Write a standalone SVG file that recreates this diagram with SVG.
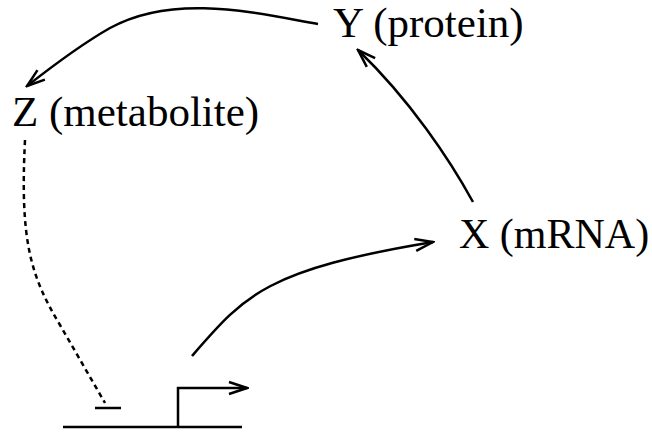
<svg xmlns="http://www.w3.org/2000/svg" width="652" height="432" viewBox="0 0 652 432">
<style>
  .lbl { font-family: "Liberation Serif", "Times New Roman", serif; font-size: 43px; fill: #000; }
  .ln { fill: none; stroke: #000; stroke-width: 2.5; }
  .dash { stroke-dasharray: 5 4; }
</style>
<defs>
  <marker id="arr" markerUnits="userSpaceOnUse" viewBox="-21 -9 23 18" markerWidth="23" markerHeight="18" refX="0" refY="0" orient="auto">
    <path d="M-18,-6 L0,0 L-18,6" fill="none" stroke="#000" stroke-width="2.5"/>
  </marker>
</defs>
<rect width="652" height="432" fill="#fff"/>
<g id="node-Y"><text class="lbl" x="333" y="37">Y (protein)</text></g>
<g id="node-Z"><text class="lbl" x="12" y="126">Z (metabolite)</text></g>
<g id="node-X"><text class="lbl" x="459" y="248" style="font-size:42px">X (mRNA)</text></g>
<g id="node-gene">
  <line class="ln" x1="63" y1="427" x2="242" y2="427"/>
  <path class="ln" d="M178,427 V388 H247" marker-end="url(#arr)"/>
</g>
<g id="connectors">
  <path class="ln" d="M318,24 C260,14 175,-8 110,28 C80,45 50,68 27,86" marker-end="url(#arr)"/>
  <path class="ln" d="M473,202 C450,160 410,100 358,50" marker-end="url(#arr)"/>
  <path class="ln" d="M192,356 C245,295 265,270 433,242" marker-end="url(#arr)"/>
  <path class="ln dash" d="M25,140 C20,240 30,275 60,325 L105,403"/>
  <line class="ln" x1="95" y1="408" x2="121" y2="408"/>
</g>
</svg>
